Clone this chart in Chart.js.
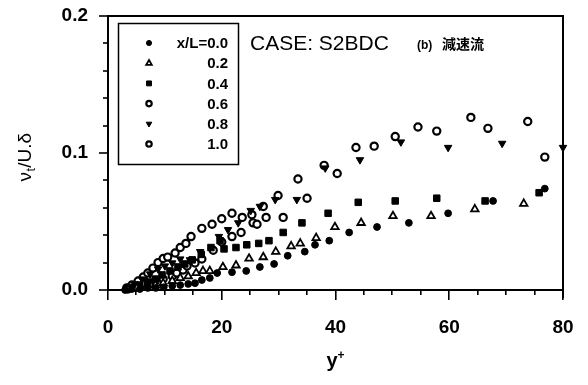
<!DOCTYPE html>
<html>
<head>
<meta charset="utf-8">
<script src="https://cdn.jsdelivr.net/npm/chart.js@4.4.1/dist/chart.umd.min.js"></script>
<style>
  html, body { margin: 0; padding: 0; background: #fff; }
  #wrap { width: 588px; height: 385px; }
</style>
</head>
<body>
<div id="wrap"><canvas id="chart" width="588" height="385"></canvas></div>
<script>
// Eddy viscosity profiles nu_t/(U* delta) against y+ at six streamwise stations
const stations = ["x/L=0.0", "0.2", "0.4", "0.6", "0.8", "1.0"];

const yPlus00 = [3.0, 4.2, 5.6, 7.0, 8.4, 9.8, 11.3, 12.7, 14.1, 15.3, 16.5, 17.9, 19.2, 21.8, 24.3, 26.7, 29.2, 31.6, 34.6, 36.4, 38.9, 42.4, 47.3, 52.9, 59.8, 67.7, 76.8];
const nut00 = [0.0, 0.0007, 0.0007, 0.0015, 0.0015, 0.002, 0.003, 0.0036, 0.0044, 0.005, 0.0073, 0.0088, 0.0124, 0.013, 0.0139, 0.0168, 0.019, 0.025, 0.028, 0.033, 0.036, 0.042, 0.046, 0.049, 0.056, 0.065, 0.074];

const yPlus02 = [3.5, 5.1, 6.7, 8.3, 9.7, 11.3, 12.7, 14.1, 15.5, 16.7, 17.9, 20.2, 22.5, 24.8, 27.3, 29.5, 32.2, 33.8, 36.6, 39.9, 44.5, 50.1, 56.8, 64.5, 73.1];
const nut02 = [0.0007, 0.0015, 0.002, 0.0036, 0.005, 0.0066, 0.0088, 0.010, 0.0124, 0.0139, 0.0139, 0.0168, 0.018, 0.023, 0.024, 0.028, 0.032, 0.034, 0.038, 0.046, 0.049, 0.054, 0.054, 0.059, 0.063];

const yPlus04 = [3.3, 4.4, 5.6, 7.0, 8.3, 9.5, 10.9, 12.3, 13.5, 14.8, 16.4, 18.1, 19.7, 20.4, 22.5, 24.4, 26.5, 28.3, 30.8, 34.1, 38.7, 44.0, 50.5, 57.8, 66.3, 75.8];
const nut04 = [0.0007, 0.002, 0.0036, 0.0058, 0.008, 0.011, 0.0139, 0.0168, 0.019, 0.022, 0.026, 0.031, 0.036, 0.030, 0.031, 0.033, 0.034, 0.036, 0.042, 0.049, 0.056, 0.064, 0.065, 0.067, 0.065, 0.071];

const yPlus06 = [3.5, 4.9, 6.5, 8.3, 9.7, 11.3, 12.1, 13.2, 13.9, 15.3, 16.5, 18.5, 20.0, 21.8, 23.4, 25.5, 26.2, 27.8, 30.8, 35.0, 40.3, 76.8];
const nut06 = [0.0007, 0.002, 0.0044, 0.0066, 0.008, 0.010, 0.0124, 0.0146, 0.0175, 0.0197, 0.0226, 0.029, 0.035, 0.039, 0.042, 0.049, 0.048, 0.053, 0.053, 0.067, 0.085, 0.097];

const yPlus08 = [3.5, 4.7, 6.0, 7.4, 8.8, 10.0, 11.3, 12.7, 14.4, 16.2, 19.5, 21.1, 22.9, 25.1, 26.7, 29.4, 33.2, 38.2, 44.3, 51.5, 59.8, 69.3, 80.0];
const nut08 = [0.0015, 0.0044, 0.008, 0.0117, 0.0153, 0.0175, 0.0197, 0.0226, 0.022, 0.028, 0.039, 0.044, 0.049, 0.058, 0.061, 0.066, 0.066, 0.089, 0.095, 0.108, 0.104, 0.107, 0.104];

const yPlus10 = [3.3, 4.2, 5.3, 6.2, 7.0, 7.9, 8.8, 9.7, 10.5, 11.8, 12.7, 13.7, 14.6, 16.5, 18.3, 20.0, 21.8, 23.6, 25.3, 27.3, 29.9, 33.4, 38.0, 43.6, 46.8, 50.5, 54.5, 57.8, 63.8, 66.8, 73.8];
const nut10 = [0.0015, 0.0036, 0.0066, 0.0095, 0.0124, 0.016, 0.020, 0.023, 0.024, 0.027, 0.031, 0.034, 0.039, 0.045, 0.048, 0.052, 0.056, 0.053, 0.055, 0.061, 0.069, 0.081, 0.091, 0.104, 0.105, 0.112, 0.119, 0.116, 0.126, 0.118, 0.123];

const xTicks = [0, 20, 40, 60, 80];
const xTickLabels = ["0", "20", "40", "60", "80"];
const yTicks = [0, 0.1, 0.2];
const yTickLabels = ["0.0", "0.1", "0.2"];

const FONT = "'Liberation Sans', Arial, Helvetica, sans-serif";

function zip(xs, ys) {
  return xs.map((v, i) => ({ x: v, y: ys[i] }));
}

// marker look per station
const markers = [
  { pointStyle: "circle", radius: 3.4, fill: "#000", border: 1, rotation: 0 },
  { pointStyle: "triangle", radius: 4.3, fill: "#fff", border: 1.8, rotation: 0 },
  { pointStyle: "rect", radius: 4.6, fill: "#000", border: 1, rotation: 0 },
  { pointStyle: "circle", radius: 3.6, fill: "#fff", border: 2.2, rotation: 0 },
  { pointStyle: "triangle", radius: 4.3, fill: "#000", border: 1, rotation: 180 },
  { pointStyle: "circle", radius: 3.6, fill: "#fff", border: 2.2, rotation: 0 }
];

const series = [
  zip(yPlus00, nut00),
  zip(yPlus02, nut02),
  zip(yPlus04, nut04),
  zip(yPlus06, nut06),
  zip(yPlus08, nut08),
  zip(yPlus10, nut10)
];

const datasets = series.map((pts, i) => ({
  label: stations[i],
  data: pts,
  pointStyle: markers[i].pointStyle,
  pointRadius: markers[i].radius,
  pointRotation: markers[i].rotation,
  pointBackgroundColor: markers[i].fill,
  pointBorderColor: "#000",
  pointBorderWidth: markers[i].border,
  showLine: false,
  clip: false
}));

// no label overhang: the plot box is placed by the padding alone
function noOverhang(scale) {
  scale.paddingTop = 0;
  scale.paddingBottom = 0;
  scale.paddingLeft = 0;
  scale.paddingRight = 0;
}

// plain edge axis used only for the top and right sides of the frame
function edgeAxis(position, axis, max) {
  return {
    type: "linear",
    position: position,
    axis: axis,
    min: 0,
    max: max,
    afterFit(scale) {
      if (axis === "x") scale.height = 0; else scale.width = 0;
      noOverhang(scale);
    },
    grid: { display: false, drawTicks: false },
    border: { display: true, color: "#000", width: 2 },
    ticks: { display: false }
  };
}

// minor ticks, axis titles, legend box and case label
const decorations = {
  id: "decorations",
  afterDraw(chart) {
    const ctx = chart.ctx;
    const xs = chart.scales.x, ys = chart.scales.y;
    const L = Math.round(xs.getPixelForValue(0));
    const R = Math.round(xs.getPixelForValue(80));
    const B = Math.round(ys.getPixelForValue(0));
    ctx.save();
    ctx.fillStyle = "#000";
    ctx.strokeStyle = "#000";

    // short spur of the right edge below the x axis
    ctx.fillRect(R - 1, B, 2, 8);

    // ticks, major and minor, pointing outward
    for (let v = 0; v <= 80; v += 5) {
      const px = Math.round(xs.getPixelForValue(v));
      const len = v % 20 === 0 ? 10 : 5;
      ctx.fillRect(px - 1, B, 1.6, len);
    }
    for (let i = 0; i <= 10; i++) {
      const py = Math.round(ys.getPixelForValue(i * 0.02));
      const len = i % 5 === 0 ? 9 : 5;
      ctx.fillRect(L - len, py - 0.8, len, 1.6);
    }

    // x title: y+
    ctx.textBaseline = "alphabetic";
    ctx.textAlign = "left";
    ctx.font = "bold 20px " + FONT;
    const xc = (L + R) / 2;
    const wy = ctx.measureText("y").width;
    ctx.font = "bold 12px " + FONT;
    const wp = ctx.measureText("+").width;
    const tx = xc - (wy + wp) / 2;
    ctx.font = "bold 20px " + FONT;
    ctx.fillText("y", tx, 367);
    ctx.font = "bold 12px " + FONT;
    ctx.fillText("+", tx + wy, 359);

    // y title: nu_t / U.delta, rotated
    ctx.save();
    ctx.translate(31, 157);
    ctx.rotate(-Math.PI / 2);
    const parts = [
      { t: "\u03bd", f: "19px " + FONT, dy: 0 },
      { t: "t", f: "12px " + FONT, dy: 4 },
      { t: "/U.\u03b4", f: "19px " + FONT, dy: 0 }
    ];
    let total = 0;
    parts.forEach(p => { ctx.font = p.f; p.w = ctx.measureText(p.t).width + 0.5; total += p.w; });
    let px = -total / 2;
    parts.forEach(p => { ctx.font = p.f; ctx.fillText(p.t, px, p.dy); px += p.w; });
    ctx.restore();

    // case label
    ctx.font = "21px " + FONT;
    ctx.fillText("CASE: S2BDC", 250, 50);
    ctx.font = "bold 12px " + FONT;
    ctx.fillText("(b)", 417, 49);
    ctx.font = "bold 14px 'Noto Sans CJK JP', sans-serif";
    ctx.fillText("\u6e1b\u901f\u6d41", 442, 49);

    // legend box
    ctx.lineWidth = 1.5;
    ctx.strokeRect(118.5, 23.5, 120, 141);
    ctx.font = "bold 15px " + FONT;
    ctx.textAlign = "right";
    ctx.textBaseline = "middle";
    stations.forEach((name, i) => {
      const ry = 43 + i * 20.2;
      const m = markers[i];
      ctx.fillStyle = m.fill;
      ctx.lineWidth = m.border;
      Chart.helpers.drawPoint(ctx, {
        pointStyle: m.pointStyle,
        radius: m.radius * 0.75,
        rotation: m.rotation,
        borderWidth: m.border
      }, 149, ry);
      ctx.fillStyle = "#000";
      ctx.fillText(name, 228, ry + 1);
    });
    ctx.restore();
  }
};

new Chart(document.getElementById("chart"), {
  type: "scatter",
  data: { datasets: datasets },
  plugins: [decorations],
  options: {
    responsive: false,
    animation: false,
    layout: { autoPadding: false, padding: { top: 16, right: 25, left: 0, bottom: 0 } },
    plugins: {
      legend: { display: false },
      tooltip: { enabled: false }
    },
    scales: {
      x: {
        type: "linear",
        position: "bottom",
        min: 0,
        max: 80,
        afterFit(scale) { scale.height = 95; noOverhang(scale); },
        afterBuildTicks(scale) { scale.ticks = xTicks.map(v => ({ value: v })); },
        grid: { display: false, drawTicks: false },
        border: { display: true, color: "#000", width: 2 },
        ticks: {
          color: "#000",
          padding: 26,
          maxRotation: 0,
          font: { family: FONT, size: 19, weight: "bold" },
          callback: (v) => xTickLabels[xTicks.indexOf(v)]
        }
      },
      y: {
        type: "linear",
        position: "left",
        min: 0,
        max: 0.2,
        afterFit(scale) { scale.width = 108; noOverhang(scale); },
        afterBuildTicks(scale) { scale.ticks = yTicks.map(v => ({ value: v })); },
        grid: { display: false, drawTicks: false },
        border: { display: true, color: "#000", width: 2 },
        ticks: {
          color: "#000",
          padding: 20,
          font: { family: FONT, size: 19, weight: "bold" },
          callback: (v) => yTickLabels[yTicks.indexOf(v)]
        }
      },
      xTop: edgeAxis("top", "x", 80),
      yRight: edgeAxis("right", "y", 0.2)
    }
  }
});
</script>
</body>
</html>
